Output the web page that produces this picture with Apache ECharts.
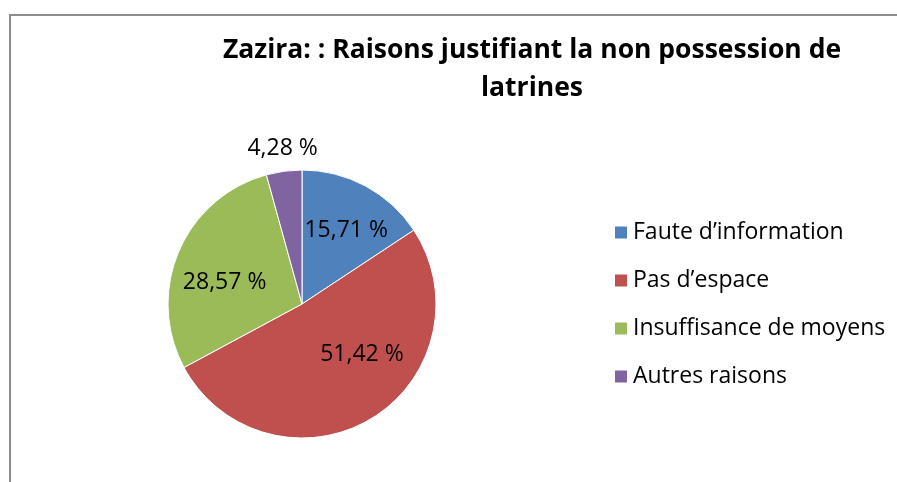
<!DOCTYPE html>
<html>
<head>
<meta charset="utf-8">
<script src="https://cdn.jsdelivr.net/npm/echarts@6/dist/echarts.min.js"></script>
<style>
body { margin: 0; background: #fff; }
#wrap { position: relative; width: 897px; height: 482px; }
.frame {
	position: absolute;
	left: 9px;
	top: 14px;
	right: 0;
	bottom: 0;
	border-top: 2px solid #8c8c8c;
	border-left: 2px solid #8c8c8c;
}
#chart { position: absolute; left: 0; top: 0; width: 897px; height: 482px; }
</style>
</head>
<body>
<div id="wrap">
	<div class="frame"></div>
	<div id="chart"></div>
</div>
<script>
// chart data
const categories = ["Faute d’information", "Pas d’espace", "Insuffisance de moyens", "Autres raisons"];
const values = [15.71, 51.42, 28.57, 4.28];
const colors = ["#4F81BD", "#C0504D", "#9BBB59", "#8064A2"];
// label nudges (px) so labels sit like in the original
const labelOffsets = [[11, -12], [24, -10], [-13, 6], [-10, -86]];

const font = "'Open Sans', sans-serif";

let chart = echarts.init(document.getElementById("chart"));
let option = {
	animation: false,
	title: {
		text: "Zazira: : Raisons justifiant la non possession de\nlatrines",
		left: 527,
		top: 26,
		textAlign: "center",
		textStyle: {
			fontFamily: font,
			fontSize: 26.5,
			fontWeight: "bold",
			color: "#000",
			lineHeight: 38
		}
	},
	legend: {
		orient: "vertical",
		left: 608,
		top: 216,
		icon: "rect",
		itemWidth: 14,
		itemHeight: 14,
		itemGap: 25,
		data: categories,
		textStyle: {
			fontFamily: font,
			fontSize: 23,
			color: "#000"
		}
	},
	series: [
		{
			type: "pie",
			center: [302, 304],
			radius: 134,
			startAngle: 90,
			clockwise: true,
			itemStyle: {
				borderColor: "#fff",
				borderWidth: 1
			},
			label: {
				position: "inner",
				fontFamily: font,
				fontSize: 23,
				color: "#000",
				formatter: function(p) {
					return p.value.toFixed(2).replace(".", ",") + " %";
				}
			},
			labelLine: { show: false },
			data: categories.map(function(name, i) {
				return {
					name: name,
					value: values[i],
					itemStyle: { color: colors[i] },
					label: { offset: labelOffsets[i] }
				};
			})
		}
	]
};
chart.setOption(option);
</script>
</body>
</html>
